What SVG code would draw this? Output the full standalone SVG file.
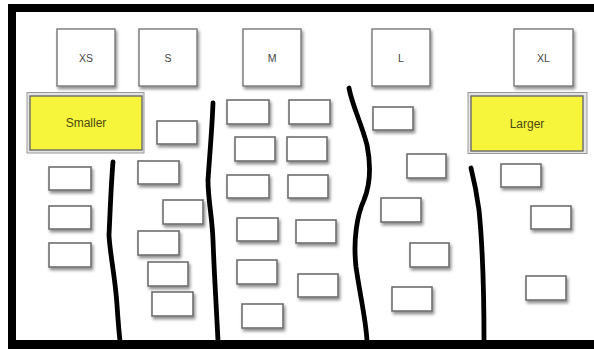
<svg xmlns="http://www.w3.org/2000/svg" width="594" height="349" viewBox="0 0 594 349">
<defs>
<filter id="sh" x="-30%" y="-30%" width="160%" height="170%">
<feDropShadow dx="1.5" dy="2.5" stdDeviation="1.6" flood-color="#000" flood-opacity="0.45"/>
</filter>
<style>
.card{fill:#fff;stroke:#6e6e6e;stroke-width:1.6;filter:url(#sh)}
.size{fill:#fff;stroke:#777;stroke-width:1.4;filter:url(#sh)}
.lbl{font-family:"Liberation Sans",Arial,sans-serif;font-size:10.5px;fill:#444;text-anchor:middle}
.ylbl{font-family:"Liberation Sans",Arial,sans-serif;font-size:12px;fill:#4a4a12;text-anchor:middle}
.frame{fill:#e4e4e4;stroke:#9a9a9a;stroke-width:1}
.yel{fill:#f7f43c;stroke:#6a6a6a;stroke-width:1.4}
.div{fill:none;stroke:#000;stroke-width:4.8;stroke-linecap:round;stroke-linejoin:round}
</style>
</defs>
<rect x="0" y="0" width="594" height="349" fill="#fff"/>
<g id="border" fill="#000">
<rect x="8" y="4" width="586" height="8"/>
<rect x="8" y="4" width="8" height="345"/>
<rect x="8" y="340" width="586" height="9"/>
</g>
<g id="size-XS"><rect class="size" x="57" y="29" width="58" height="57"/><text class="lbl" x="86" y="61.5">XS</text></g>
<g id="size-S"><rect class="size" x="139" y="29" width="58" height="57"/><text class="lbl" x="168" y="61.5">S</text></g>
<g id="size-M"><rect class="size" x="243" y="29" width="58" height="57"/><text class="lbl" x="272" y="61.5">M</text></g>
<g id="size-L"><rect class="size" x="372" y="29" width="58" height="57"/><text class="lbl" x="401" y="61.5">L</text></g>
<g id="size-XL"><rect class="size" x="514" y="29" width="59" height="57"/><text class="lbl" x="543.5" y="61.5">XL</text></g>
<g id="smaller"><rect class="frame" x="27" y="92.5" width="117" height="60.5"/><rect class="yel" x="30" y="96" width="112" height="54"/><text class="ylbl" x="86" y="127">Smaller</text></g>
<g id="larger"><rect class="frame" x="468" y="92.5" width="119" height="61"/><rect class="yel" x="471" y="96" width="112" height="55"/><text class="ylbl" x="527" y="127.5">Larger</text></g>
<g id="cards-xs">
<rect class="card" x="49" y="167" width="42" height="23"/>
<rect class="card" x="49" y="206" width="42" height="23"/>
<rect class="card" x="49" y="243" width="42" height="24"/>
</g>
<g id="cards-s">
<rect class="card" x="157" y="121" width="40" height="23"/>
<rect class="card" x="138" y="161" width="41" height="23"/>
<rect class="card" x="163" y="200" width="40" height="24"/>
<rect class="card" x="138" y="231" width="41" height="24"/>
<rect class="card" x="148" y="262" width="40" height="24"/>
<rect class="card" x="152" y="292" width="41" height="24"/>
</g>
<g id="cards-m">
<rect class="card" x="227" y="100" width="42" height="24"/>
<rect class="card" x="289" y="100" width="41" height="24"/>
<rect class="card" x="235" y="137" width="40" height="24"/>
<rect class="card" x="287" y="137" width="40" height="24"/>
<rect class="card" x="227" y="175" width="42" height="23"/>
<rect class="card" x="288" y="175" width="40" height="23"/>
<rect class="card" x="237" y="218" width="41" height="23"/>
<rect class="card" x="296" y="220" width="40" height="23"/>
<rect class="card" x="237" y="260" width="40" height="24"/>
<rect class="card" x="298" y="274" width="40" height="23"/>
<rect class="card" x="242" y="304" width="41" height="24"/>
</g>
<g id="cards-l">
<rect class="card" x="373" y="107" width="40" height="23"/>
<rect class="card" x="407" y="154" width="39" height="24"/>
<rect class="card" x="381" y="198" width="40" height="24"/>
<rect class="card" x="410" y="243" width="39" height="24"/>
<rect class="card" x="392" y="287" width="40" height="24"/>
</g>
<g id="cards-xl">
<rect class="card" x="501" y="164" width="40" height="23"/>
<rect class="card" x="531" y="206" width="40" height="23"/>
<rect class="card" x="526" y="276" width="40" height="24"/>
</g>
<g id="connectors">
<path class="div" d="M113 162 C111 185 110 215 109 235 C110 255 115 275 117 305 C118 320 119 332 120 341"/>
<path class="div" d="M213 103 C212 130 210 150 208 180 C208 200 212 215 213 240 C214 270 216 300 218 341"/>
<path class="div" d="M349 88 C352 105 362 125 367 145 C371 165 370 185 364 200 C357 215 353 240 356 267 C360 295 366 320 367 341"/>
<path class="div" d="M471 168 C474 180 477 195 479 210 C482 240 484 290 484 341"/>
</g>
</svg>
